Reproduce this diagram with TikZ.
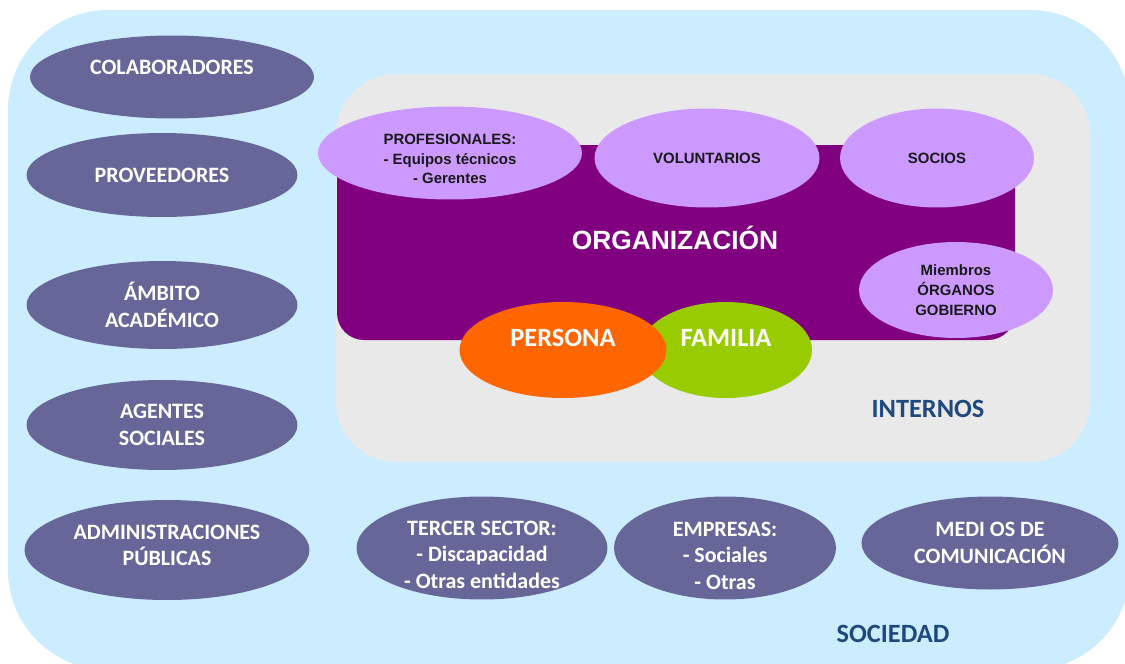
\documentclass[tikz,border=0pt]{standalone}
\usepackage{fontspec}
\setmainfont{Carlito}
\newfontfamily\arialfont{Liberation Sans}
\usetikzlibrary{shapes.geometric}
\definecolor{cielo}{HTML}{CCECFF}
\definecolor{gris}{HTML}{E9E9E9}
\definecolor{morado}{HTML}{800080}
\definecolor{lila}{HTML}{CC99FF}
\definecolor{pizarra}{HTML}{666699}
\definecolor{naranja}{HTML}{FF6600}
\definecolor{verde}{HTML}{99CC00}
\definecolor{azul}{HTML}{1F497D}
\newcommand{\alto}[1]{\rule{0pt}{#1}}
\newcommand{\hondo}[1]{\rule[-#1]{0pt}{0pt}}
\tikzstyle{grupo}=[ellipse,fill=pizarra,text=white,inner xsep=0pt,inner ysep=-10pt,align=center,font=\bfseries\fontsize{12.5}{15}\selectfont]
\tikzstyle{miembro}=[ellipse,fill=lila,text=black!90,inner xsep=0pt,inner ysep=-10pt,align=center,font=\arialfont\bfseries\fontsize{8.5}{11.2}\selectfont]
\tikzstyle{nucleo}=[ellipse,text=white,inner sep=0pt,text depth=13.6pt,minimum height=1.92cm,font=\bfseries\fontsize{15}{18}\selectfont]
\tikzstyle{rotulo}=[text=azul,font=\bfseries\fontsize{15}{18}\selectfont]

\begin{document}
\begin{tikzpicture}[x=0.02cm,y=-0.02cm]
    \useasboundingbox (0,0) rectangle (1125,663);
    % areas
    \fill[cielo,rounded corners=2cm] (8,10) rectangle (1130,670);
    \fill[gris,rounded corners=1.2cm] (336,74) rectangle (1090,462);
    \fill[morado,rounded corners=0.54cm] (337,145) rectangle (1015,340);
    \node[text=white,font=\arialfont\bfseries\fontsize{15}{18}\selectfont] (org) at (675,238) {ORGANIZACIÓN};

    % internos
    \node[miembro,minimum width=5.28cm,minimum height=1.86cm] (prof)     at (450,153) {\alto{12.9pt}PROFESIONALES:\\- Equipos técnicos\\- Gerentes};
    \node[miembro,minimum width=4.5cm,minimum height=1.98cm]  (volunt)   at (707,158) {VOLUNTARIOS};
    \node[miembro,minimum width=3.88cm,minimum height=1.98cm] (socios)   at (937,158) {SOCIOS};
    \node[miembro,minimum width=3.88cm,minimum height=1.92cm] (organos)  at (956,290) {Miembros\\ÓRGANOS\\GOBIERNO};
    \node[nucleo,fill=verde,minimum width=3.44cm]   (familia) at (726,350) {FAMILIA};
    \node[nucleo,fill=naranja,minimum width=4.14cm] (persona) at (563,350) {PERSONA};
    \node[rotulo] (internos) at (928,409) {INTERNOS};

    % sociedad
    \node[grupo,minimum width=5.68cm,minimum height=1.66cm,text depth=11.4pt] (colab) at (172,77) {COLABORADORES};
    \node[grupo,minimum width=5.42cm,minimum height=1.68cm] (prov)     at (162,175) {PROVEEDORES};
    \node[grupo,minimum width=5.42cm,minimum height=1.76cm] (ambito)   at (162,305) {ÁMBITO\\ACADÉMICO};
    \node[grupo,minimum width=5.42cm,minimum height=1.8cm]  (agentes)  at (162,425) {AGENTES\\SOCIALES};
    \node[grupo,minimum width=5.7cm,minimum height=2cm]     (admin)    at (167,550) {ADMINISTRACIONES\\PÚBLICAS\hondo{5.6pt}};
    \node[grupo,minimum width=5.02cm,minimum height=2.06cm] (tercer)   at (482,548) {\alto{16pt}TERCER SECTOR:\\- Discapacidad\\- Otras entidades};
    \node[grupo,minimum width=4.44cm,minimum height=2.06cm] (empresas) at (725,548) {\alto{17pt}EMPRESAS:\\- Sociales\\- Otras};
    \node[grupo,minimum width=5.14cm,minimum height=1.86cm] (medios)   at (990,543) {MEDI OS DE\\COMUNICACIÓN};
    \node[rotulo] (sociedad) at (893,634) {SOCIEDAD};
\end{tikzpicture}
\end{document}
